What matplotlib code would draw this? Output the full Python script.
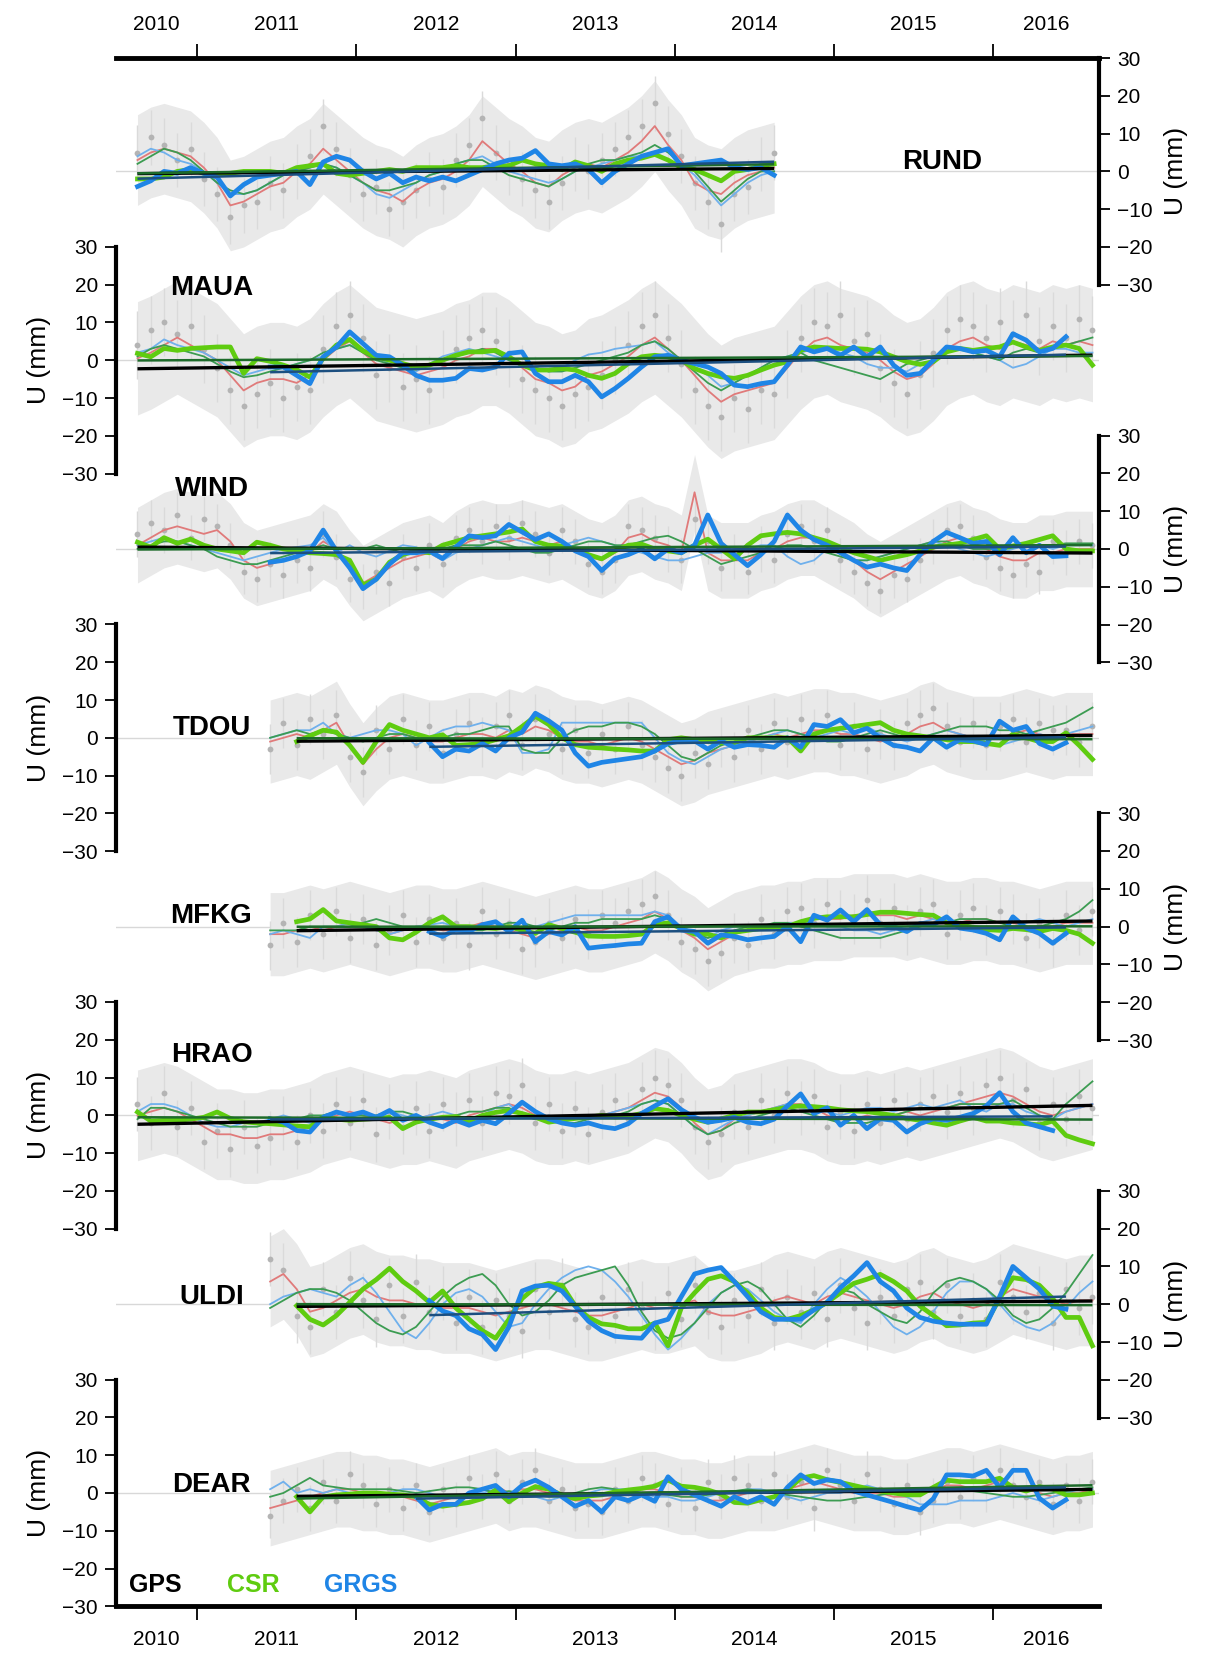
import numpy as np
import matplotlib
matplotlib.use('Agg')
import matplotlib.pyplot as plt

plt.rcParams['font.family'] = ['Liberation Sans', 'DejaVu Sans']

nan = np.nan

# ---- data (monthly, Aug 2010 .. Aug 2016), U in mm ----
stations = ['RUND', 'MAUA', 'WIND', 'TDOU', 'MFKG', 'HRAO', 'ULDI', 'DEAR']
months = 2010 + (np.arange(73) + 7.5) / 12
year_ticks = [2011, 2012, 2013, 2014, 2015, 2016]
year_labels = ['2010', '2011', '2012', '2013', '2014', '2015', '2016']

# first month index of each series
gps_start = {'RUND': 0, 'MAUA': 0, 'WIND': 0, 'TDOU': 10, 'MFKG': 10, 'HRAO': 0, 'ULDI': 10, 'DEAR': 10}
csr_start = {'RUND': 0, 'MAUA': 0, 'WIND': 0, 'TDOU': 12, 'MFKG': 12, 'HRAO': 0, 'ULDI': 12, 'DEAR': 12}
grgs_start = {'RUND': 0, 'MAUA': 10, 'WIND': 10, 'TDOU': 22, 'MFKG': 22, 'HRAO': 10, 'ULDI': 22, 'DEAR': 21}

# GPS error bar size (mm)
gps_err = {'RUND': 12, 'MAUA': 15, 'WIND': 10, 'TDOU': 11, 'MFKG': 11, 'HRAO': 12, 'ULDI': 12, 'DEAR': 10}

# GPS daily solutions (sampled)
gps_daily = {
    'RUND': [5, 9, 7, 3, 6, -2, -6, -12, -9, -8, -3, -5, 0, 4, 12, 6, -1, -6, -4, -10, -8, -5, -2, -4, 3,
             7, 14, 5, 1, -2, -5, -8, -3, 2, 0, 3, 6, 9, 12, 18, 10, 4, -3, -8, -14, -6, -4, 2, 5],
    'MAUA': [4, 8, 10, 7, 9, 3, -2, -8, -12, -9, -6, -10, -7, -8, 3, 9, 12, 6, -4, -2, -7, -5, -8, -1, 3,
             6, 8, 5, 2, -5, -8, -10, -12, -9, -7, -4, 0, 4, 9, 12, 6, -1, -8, -12, -15, -10, -13, -8, -9,
             -1, 6, 10, 9, 12, 5, 7, -2, -6, -9, -4, 2, 8, 11, 9, 6, 10, 7, 12, 5, 9, 6, 11, 8],
    'WIND': [4, 7, 5, 9, 3, 8, 6, 1, -6, -8, -4, -7, -3, -5, 4, -2, -8, -10, -6, -9, -2, -5, 1, -4, 3,
             5, 2, 6, 3, 7, 4, -1, 5, 2, -4, -6, -3, 6, 5, 3, 0, -3, 8, 2, -5, -2, -6, 0, -3, 4, 6, 2, 5,
             -3, -6, -9, -11, -7, -8, -3, 2, 5, 6, 3, -2, -5, -7, -4, -6, 2, -1, 2, 1],
    'TDOU': [-3, 4, -2, 5, 1, 6, -5, -9, 2, -3, 5, -2, 3, -4, 1, 4, -1, 3, 6, -2, 5, 1, -3, 2, -4, 1, -3,
             3, -2, -5, -8, -10, -4, -7, -1, -5, 2, -3, 4, -1, 5, 1, 6, -2, 3, -3, 1, -2, 4, 6, 8, 3, -1,
             4, -2, 3, 5, -1, 4, 2, 2, -1, 3],
    'MFKG': [-5, 1, -4, 3, -2, 4, -3, 2, -5, -1, 3, -4, 2, -3, 1, -5, 4, -2, 1, -6, -4, 1, -3, 2, -2, 3,
             1, 4, 6, 8, 3, -4, -6, -9, -7, -3, -5, 2, -2, 4, 5, 1, 6, 3, 2, 7, 1, 5, -1, 4, 6, -2, 3, 5,
             -1, 4, 2, -3, 1, -4, 3, -1, 4],
    'HRAO': [3, -2, 6, -3, 2, -7, -4, -9, -3, -8, -6, -2, -7, 0, -4, 3, -2, 4, -5, 1, -3, 2, -4, 3, -1,
             4, -2, 6, 5, 8, -2, 3, -4, 2, -5, 1, 4, -1, 7, 10, 8, 4, -3, -7, -5, 1, -3, 4, 0, 6, 2, 5, -3,
             1, -4, 3, -2, 4, -1, 3, 5, 1, 6, 2, 8, 10, 4, 7, -2, 3, -1, 5, 2],
    'ULDI': [12, 9, -3, -6, 4, -2, 7, 1, -4, 5, -3, 6, -2, 3, -5, 2, -6, 1, -3, -7, 4, -2, 5, -4, -6, 2,
             -3, 4, -1, -5, 3, -4, 5, -2, -6, 1, -3, 4, -5, 2, -2, 3, -4, 5, -1, -5, 2, -3, 4, 6, -2, 5,
             -3, 1, -4, 6, 2, -2, 3, -5, 4, -1, 2],
    'DEAR': [-6, -2, 1, -4, 3, -2, 5, 2, -3, 1, -4, 2, -5, 1, -3, 4, -1, 5, -2, 3, 6, -2, 1, -4, -3, -5,
             1, -2, 4, 2, -3, 1, -4, 3, -1, 4, 2, -2, 5, -1, 3, -4, 6, 2, -2, 5, 1, -3, 2, -5, -2, 3, -1,
             4, 1, 6, 2, -1, 3, -3, 2, -2, 3],
}

# GPS monthly (thin red)
gps_monthly = {
    'RUND': [3, 5, 6, 5, 4, 1, -3, -9, -8, -6, -4, -3, 0, 2, 6, 3, 0, -3, -5, -6, -8, -5, -3, -2, 0, 3,
             8, 5, 2, 0, -3, -4, -1, 1, 2, 1, 3, 5, 8, 12, 7, 3, -3, -5, -6, -3, -1, 0, 1],
    'MAUA': [0.5, 2, 4, 6, 4, 2, 0, -4, -8, -6, -5, -5, -6, -4, 0, 3, 5, 2, -1, -2, -3, -4, -3, -2, 0, 1,
             3, 3, 1, -2, -5, -6, -8, -7, -4, -3, -1, 1, 4, 6, 3, 0, -4, -8, -11, -9, -8, -7, -6, -2, 2,
             5, 6, 4, 3, 2, 0, -3, -5, -4, -1, 3, 5, 6, 4, 3, 5, 4, 3, 5, 4, 5, 4],
    'WIND': [1, 3, 5, 6, 5, 4, 5, 2, -3, -5, -4, -3, -2, -1, 2, 0, -5, -9, -7, -5, -3, -2, -1, -3, 0, 2,
             3, 2, 2, 3, 2, 1, 2, 0, -2, -3, -1, 3, 4, 2, 1, -1, 15, -1, -3, -3, -3, -1, 0, 2, 3, 3, 1,
             -1, -3, -6, -8, -6, -4, -2, 0, 2, 3, 1, 0, -2, -3, -3, -1, -1, 0, 0, 0],
    'TDOU': [-1, 0, 1, 0, 2, 4, -2, -7, -3, 0, 1, 0, -1, -1, 0, 1, 1, 0, 2, 1, 3, 2, 0, -1, -1, -2, -1,
             0, -1, -3, -5, -7, -6, -4, -3, -2, -1, 0, 1, 0, 1, 2, 2, 1, 1, 0, -1, 0, 1, 3, 4, 2, 1, 0,
             0, 0, 1, 2, 1, 0, 1, 1, 1],
    'MFKG': [-2, -2, -1, 0, -1, 0, 1, 0, -1, -2, -1, 0, 0, -1, -1, 0, 1, 0, -1, -2, -3, -2, -1, 0, -1,
             -1, 0, 1, 2, 4, 2, -1, -3, -6, -4, -2, -1, 0, 0, 1, 1, 2, 2, 2, 3, 3, 3, 3, 2, 3, 2, 1, 1, 2,
             2, 1, 1, 0, -1, 0, 1, 1, 1],
    'HRAO': [0, 1, 2, 1, -1, -3, -5, -5, -6, -6, -5, -5, -4, -3, -1, 0, 1, 0, -1, -2, -1, -1, 0, -1, -2,
             0, 1, 2, 3, 2, 0, -1, -1, 0, -1, 0, 1, 2, 4, 6, 5, 2, -2, -5, -4, -1, 0, 1, 2, 3, 3, 2, 0,
             -1, -1, 0, -1, 0, 1, 0, 1, 2, 3, 4, 5, 6, 5, 3, 1, 0, 1, 2, 3],
    'ULDI': [6, 8, 4, -2, -1, 1, 3, 4, 2, 1, 1, 0, 0, -1, -1, -1, -2, -3, -2, -1, 0, 0, -1, -2, -3, -3,
             -2, -1, 0, -1, -1, 0, 1, -2, -3, -3, -2, -1, 1, 2, 1, 0, 2, 3, 2, 1, 0, -1, 0, 2, 3, 1, 0,
             -1, 0, 2, 4, 3, 2, 1, 0, 1, 1],
    'DEAR': [-4, -3, -2, -1, 0, 1, 1, 0, 0, -1, -1, -2, -3, -2, -1, 0, 1, 2, 0, 1, 1, 0, -1, -2, -2, -2,
             -1, 0, 1, 1, 0, -1, -1, -2, -2, -1, 0, 0, 0, 1, 2, 3, 2, 1, 0, 0, 0, -1, -1, 0, 1, 2, 2, 1,
             2, 3, 2, 1, 0, -1, 0, 0, 1],
}

# GRACE CSR (thick green)
csr = {
    'RUND': [-2, -2, -1.5, 0, 0.5, -0.5, -1, -0.5, 0, 0, 0, -0.5, 1, 1.5, 2, -0.5, -1, -0.5, 0, 0.5, 0, 1,
             1, 1, 1.5, 1, 1, 1.5, 1.5, 3, 2, 1.5, 0.5, 2.5, 1.5, 0, 2, 3, 3.5, 4.5, 3, 1, 0.5, -1, -2.5,
             0, 0.5, 1.5, 2],
    'MAUA': [1.8, 0.9, 3.1, 2.6, 3.1, 3.3, 3.5, 3.5, -3.5, 0.4, -0.3, -1.3, -2.5, -4.5, 0.5, 4, 5.5, 2.5,
             0.9, 0, -0.9, -1.8, -1.3, 0, 1.3, 2.2, 2.2, 2.6, 0.9, -1.3, -2.6, -2.6, -2.2, -2.6, -4, -4.8,
             -3.5, -0.9, 0.9, 1.3, 0.9, 0, -2.2, -3.5, -4.4, -4.8, -4, -2.6, -1.3, -0.4, 2.6, 3.5, 3.3,
             3.1, 3.1, 2.9, 2.2, 0.9, -0.4, -1.1, -0.4, 2.2, 3.1, 2.6, 3.1, 3.5, 4.8, 3.5, 2.6, 3.5, 4,
             3.1, -1.3],
    'WIND': [1.8, 0.5, 3, 1.5, 2.6, 1, 0, -0.5, -1, 1.8, 1, 0, -0.5, -1, -1.2, -1.5, -3, -9.5, -8, -3.5,
             -1.5, -0.5, -1, 1, 2, 3, 3.5, 4, 4.5, 5.3, 2, 1, 0.8, 0, -1.5, -2.6, -0.5, 1, 1.3, 0, -0.5,
             -1, 1, 2.6, 0, -2.6, 1, 3.5, 4, 4.4, 4, 3, 2, 0.5, -1, -2, -3, -2.2, -1.5, -0.5, 0.5, 1, 1.5,
             2.5, 3.5, 0, 0.8, 1.5, 2.5, 3.5, 0, -0.5, -0.5],
    'TDOU': [-1, 0.5, 2, 1.5, -2, -6.5, -1, 3.5, 2, 1, 0, 0.8, -2, -1.8, -1.5, -0.5, 0.5, 3, 5.7, 3.5, 0,
             -1.8, -2.5, -2.7, -3, -3.2, -3.5, -3.5, -0.5, 0, -0.5, -1, -1.3, -1.3, 0, 0, 0, 0, -3.5, 1,
             2, 2.5, 3, 3.5, 4, 2, 1, 0.5, 0, -0.5, -1, -1, -1.5, -2, 1, 0, -1, -1, 1.3, -2, -5.7],
    'MFKG': [1.3, 2, 4.5, 1.5, 1, 0.5, 0, -3, -3.5, -1.5, 1, 2.6, 0, 0, -0.3, -0.5, 0, -1, -1.8, 0.5,
             -0.5, -1.5, -2.5, -2.6, -2.6, -2.4, -2, 0.5, 1, -0.5, -2, -2, -3, -1.5, -1, -0.5, 0, 0, 1.3,
             2.2, 2.6, 2.6, 2.6, 3.2, 3.8, 3.8, 3.5, 3.2, 3, 1, 0.5, -0.2, -0.8, -1, -0.5, -0.8, -1.3,
             -0.5, -1, -2, -4.4],
    'HRAO': [0.9, -1.5, -1.3, -1.3, -1, -0.5, 0.9, -0.8, -1.7, -2, -2.2, -2.5, -2.8, -3, -0.5, -1, -1.3,
             -1, -0.8, -0.5, -3.5, -1.8, -1, -0.5, -0.3, -1.5, 0, 0.8, 1.3, 0.5, -0.5, -1.8, -1.3, -0.8,
             -0.5, 0, -0.4, -0.2, 0.5, 1.8, 1.3, 0, -1, -1.8, -0.9, 0, 0.9, 0.9, 1.5, 2.2, 2.5, 2.3, 2,
             1.5, 1.2, 1, 0.5, 0, -0.8, -1.3, -2, -2.6, -1.5, -0.5, -1.5, -1.5, -2, -2.2, -2.5, -1.5,
             -5.3, -6.5, -7.5],
    'ULDI': [-0.4, -4, -5.5, -3, 0.5, 4, 6.5, 9.5, 6, 3.5, 0.5, 3.5, -1, -4, -7, -9, -4, 1.5, 4.5, 5.5,
             5, -0.4, -3.5, -5.2, -5.6, -6.5, -6.5, -5, -11, -1, 3, 6.6, 7.5, 6, 3, -1, -3.5, -4, -3,
             -1.5, 0.5, 3, 5.5, 6.6, 7.9, 6, 3.5, -0.5, -3, -5.7, -5.5, -5, -4.8, 1.5, 7, 6.5, 5, 1.5,
             -3.5, -3.5, -11],
    'DEAR': [-1, -5, -1, -0.5, -0.3, 0, 0, -0.3, -0.5, -1, -3, -3.5, -3, -2.5, -1.5, 0.8, -2.3, 0, 1.7,
             1, -0.5, -1.5, -0.8, -0.5, 0.3, 0.8, 1.2, 1.8, 3.4, 1.8, 1.5, 0.8, -0.3, -2.5, -2.7, -1.8,
             -1, 0.8, 3.9, 4.6, 3.5, 2.8, 2, 1.2, 0.5, 0, -0.5, -0.5, 1.5, 3.4, 3, 3, 3, 3.9, 1.5, 0.5,
             1.7, 1, -0.5, -0.5, 0],
}

# GRACE GRGS (thick blue)
grgs = {
    'RUND': [-4, -2.5, 0, -0.5, 1, -0.5, -1.5, -6.5, -3.5, -1.5, -1, -0.5, 0, -3.5, 2.5, 4, 3, 0, -2,
             -0.5, -3, -1.5, -2.5, -1.5, -2.5, -1, 0.5, 2, 3, 3.5, 5.5, 2, 1.5, 2, 0.5, -3, 0, 2, 4, 5, 6,
             1.5, 2, 2.5, 3, 1, 0.5, 1, -1],
    'MAUA': [-1.8, -1.8, -4, -6.2, 0.9, 3.5, 7.5, 4.4, 1.3, 0.9, -1.3, -4, -5.3, -5.3, -4.8, -2.2, -2.6,
             -1.8, 1.8, 2.2, -3.5, -5.7, -5.7, -4, -5.7, -9.7, -7.5, -4.8, -1.8, 0.9, 1.3, 0, -0.9, -1.8,
             -3.5, -6.6, -7, -6.2, -5.7, -1.3, 3.5, 2.2, 3.1, 1.3, 3.5, 0.9, 3.5, -1.3, -4, -3.5, 0, 3.5,
             3.1, 2.2, 2.6, 0.9, 7, 5.3, 2.2, 3.1, 6.2],
    'WIND': [-3.5, -3, -2, -0.5, 5, -0.5, -5, -10.5, -8, -4, -1, -1, -0.5, -2.5, 0.5, 3.5, 3, 3.5, 6.5,
             4.5, 2.5, 4, 2, -0.5, -2, -5.7, -2.5, -1.5, 0, -2.6, 0, -1, 1, 9, 1.5, -1.5, -4.4, -1.5, 2,
             9, 5, 2.5, 1, -1, -3, -4.8, -4, -5, -5.7, -1.5, 2, 4.4, 3, 1.5, 2, -1.5, 3, -1, 1, -2, -1.8],
    'TDOU': [-1.3, -5, -3, -3.5, -1.5, -3.5, 0, 1.5, 6.5, 4.5, 2, -4, -7.5, -6.5, -6, -5.5, -5, -3.5,
             -1.5, -0.8, -0.8, -3, -0.8, -2.5, -1.8, -2, -2.5, 0, -2.5, 3.5, 3, 4.8, 1.3, 2.5, 0, -2,
             -2.5, -3.5, 0, -2.5, -0.5, -0.8, -1.8, 4.4, 2, 3, -1.5, -3, -1.3],
    'MFKG': [-1.3, -2.6, -0.8, -1.3, 0.5, 1.3, -1.3, 1.7, -4, -1.3, -2.2, 0, -5.7, -5.3, -5, -4.6, -4.4,
             1.3, 2.6, -0.9, -1.3, -4.4, -2.2, -2.6, -3.5, -3, -2.6, 0, -4, 3, 1.7, 4.4, 1.3, 4.5, 0.5,
             0, -1.3, 0.8, 0.5, 2.6, -0.4, -0.9, -1.8, -3.5, 2.6, -0.4, -1.8, -4.4, -1.8],
    'HRAO': [-0.9, -1.8, -4, -4.4, -0.5, 0.9, 0, 0.9, -0.5, 1.3, -1.3, 0, -1.8, -3, -1.3, -2.6, -1.3,
             -2.2, 0.5, 3.5, 1, -0.9, -2, -2.6, -2, -3, -3.5, -2.2, 0.5, 2.5, 4.4, 1.5, -0.5, -1.8, -1.3,
             -0.5, -1.8, -2.2, -1, 2.5, 5.7, 0.5, 2, -2.6, 0, -3.5, -0.9, -1.3, -4.4, -2.2, -0.9, -1.3,
             -0.5, 0.5, 2.5, 6, 1, -2, -3, -4],
    'ULDI': [0.9, -1.8, -3, -6.5, -8, -12, -6, 3.5, 4.8, 5, 3.5, -0.5, -4.5, -7, -8.5, -8.8, -9, -5, -4,
             2, 8, 9, 9.7, 6, 2, -2, -4, -4, -4, -1.5, 0.5, 4.4, 7.5, 11, 6, 3.5, -1, -3.5, -4.5, -5,
             -5.3, -5.3, -5.3, 2, 10, 7, 4, -0.5, -1.3],
    'DEAR': [-1, -4.5, -3, -3, 0, 1, 2, -1, 2, 3.4, 1.5, -1, -3.5, -2, -5, -1, -2, -0.5, -2.2, 4.3, 1,
             -0.5, -2, -3.5, -1, -2.5, -1, -3, 1.5, 4.8, 2.5, 3.5, 3, 0.5, -0.5, -1.5, -2.5, -3.6, -4.5,
             -1.5, 4.8, 4.8, 4.5, 6, 1.5, 6, 6, -1.4, -4, -1.8],
}

# loading models (thin light blue / thin dark green)
model_a = {
    'RUND': [4, 6, 5, 3, 2, 0, -3, -6, -6, -5, -3, -1, 0, 1, 2, 1, -1, -3, -6, -7, -5, -3, -1, 0, 2, 3,
             4, 2, 0, -1, -2, -3, -2, 0, 1, 2, 3, 4, 4, 5, 6, 2, -1, -5, -9, -6, -3, -1, 0],
    'MAUA': [2, 3, 5.5, 4, 3, 2, 0, -2, -4, -3, -2, -2, -1, 0, 1, 3, 4, 3, 1, -1, -2, -3, -1, 1, 2, 3, 2,
             1, 0, -1, -2, -3, -2, 0, 1.5, 2, 3, 3.5, 4, 5, 2, 0, -2, -4, -7, -6, -4, -2, 0, 1, 2, 3, 3,
             2, 1, -1, -2, -2, -3, -1, 0, 2, 3, 2, 1, 0, -2, -1, 1, 3, 3, 2, 2],
    'WIND': [1, 2, 3, 2, 1, 0, -1, -2, -3, -2, -1, 0, 0.5, 1, 3, -1, 1, -1, -2, -0.5, 1, 0.5, -1, -3, -1,
             0, 1, 2, 3, 2, 1, 0, 1, 2, 3, 2, 1, 0, -1, -2, -3, -3, -2, -1, -1, 0, 0, 1, 1, -2, -4, -3, 0,
             -1, -3, -3, -2, -1, 0, 1, 2, 1, 0, -1, -2, -1, 0, 1, 1, 0, 1, 1, 1],
    'TDOU': [0, 1, 2, 2, 4, 1, 0, 1, 2, 2, 1, -2, 0, 2, 3, 3, 4, 3, 2, -4, -4, -3, 4, 4, 4, 4, 4, 4, 4, 0,
             -4, -6, -7, -5, -3, -2, -1, 0, 1, 2, 1, 0, 1, 2, 1, 3, 1, 0, -1, 0, 1, 2, 1, 0, -1, -2, -1,
             0, 1, 0, 1, 2, 3],
    'MFKG': [-2, -1, -2, -3, 0, 0, 1, 0, -1, -2, -1, 0, 0.5, 1, 0, -1, 0, 1, 0, -1, 0, 1, 2, 3, 3, 3, 3,
             3, 3, 4, 3, 0, -2, -3, -1, 0, 0, 0, 0, 1, 1, 1, 0, 0, -1, -1, -2, -1, 0, 1, 2, 1, 0, 0, -1,
             -1, 0, 1, 2, 1, 0, 1, 2],
    'HRAO': [1, 3, 3, 2, 0, -2, -3, -3, -2, -2, -1, 0, -1, -2, 0, 1, 0, -1, 0, 1, 0, -1, 0, 1, 0, -1, 0,
             2, 3, 0, -1, 0, -1, 0, -1, 0, 1, 2, 3, 4, 3, 0, -3, -5, -3, -1, 0, 1, 2, 3, 2, 1, 1, 0, 1, 2,
             2, 1, 2, 3, 2, 3, 4, 2, 1, 3, 3, 1, 0, -1, 1, 2, 3],
    'ULDI': [0, 2, 3, 4, 3, 2, 5, 7, 3, -2, -7, -9, -5, 0, 3, 4, 2, -2, -6, -5, 0, 4, 7, 9, 10, 9, 6, 2,
             -3, -8, -12, -9, -5, 0, 3, 5, 4, 1, -2, -4, -5, 0, 4, 7, 5, 2, -2, -6, -8, -6, -2, 3, 6, 6,
             4, 0, -4, -6, -7, -5, -1, 3, 6],
    'DEAR': [1, 3, 0, 1, 0, 1, 0, -1, 0, 0, 1, 1, 0, -1, -1, 0, 0, 1, 0, -1, -1, -2, -1, -1, 0, 1, 1, 1,
             0, -1, -1, -2, -2, -1, 0, 0, 1, 1, 0, -1, -2, -1, 0, 0, 1, 2, 1, 0, -1, -3, -3, -3, -2, -2,
             -2, -1, 0, -1, -2, -1, 0, 1, 1],
}
model_b = {
    'RUND': [2, 4, 6, 5, 3, 0, -3, -5, -6, -5, -3, -1, 0, 1, 2, 1, -1, -3, -5, -5, -4, -3, -1, 0, 2, 3,
             3, 1, -1, -2, -3, -4, -2, 0, 2, 3, 3, 4, 5, 7, 5, 2, 0, -4, -8, -5, -2, 0, 0],
    'MAUA': [1, 3, 4, 3, 2, 1, -1, -3, -4.5, -4, -3, -2, -1, 0, 2, 3, 4, 2, 0, -1, -2, -2.5, -1, 0, 1, 2,
             3, 2, 0, -1, -2, -3, -3, -2, -1, 0, 1, 2, 4, 5, 3, 0, -3, -6, -8, -6, -4, -2, 0, 1, 2, 0, -1,
             -2, -3, -4, -5, -3, -1, 0, 1, 2, 3, 2, 1, 0, 2, 3, 2, 3, 4, 5, 6],
    'WIND': [0, 1, 2, 2, 1, 0, -2, -3, -4, -4, -3, -2, -1, 0, 1, 0, 0, 0, 1, 0, -1, -1, -1, 0, 1, 1, 1,
             2, 1, 0, -1, -1, 0, 1, 2, 2, 1, 1, 2, 3, 3.5, 2, 0, -2, -4, -3, -2, -1, 0, 1, 1, 0, -1, -2,
             -3, -3, -2, -1, 0, 1, 2, 2, 1, 0, 0, 0, 0.5, 1, 1, 1, 1.5, 1.5, 1.5],
    'TDOU': [0, 1, 2, 1, 2, 1, 0, -1, 0, 1, 1, 0, -1, 0, 1, 1, 2, 3, 3, -3, -4, -4, 0, 2, 3, 3, 4, 4, 3,
             1, -2, -5, -6, -4, -2, -1, 0, 1, 2, 2, 1, 0, -1, -1, 0, 1, 2, 1, 0, 0, 1, 2, 3, 3, 3, 2, 2,
             1, 2, 3, 4, 6, 8],
    'MFKG': [-1, -1, -1, 0, 0, 0, 0, 1, 2, 1, 0, 0, 0, 0, 0, -1, -1, 0, 1, 1, 0, -1, 0, 1, 1, 2, 2, 2, 2,
             3, 2, 0, -2, -3, -2, -1, 0, 0, 1, 1, 0, -1, -2, -3, -3, -3, -3, -2, -1, 0, 1, 1, 2, 2, 2, 1,
             0, 0, 0, 1, 2, 4, 7],
    'HRAO': [-1, 2, 2, 1, 0, -1, -2, -3, -3, -3, -2, -1, -1, 0, 0, 1, 0, 0, 0, 1, 1, 0, -1, -1, 0, 1, 1,
             2, 2, 0, -1, -1, -2, -2, -1, 0, 0, 1, 3, 4, 3, 0, -3, -5, -4, -2, -1, 0, 1, 2, 1, 0, -1, -2,
             -2, -2, -1, 0, 1, 2, 2, 2, 3, 3, 3, 3, 4, 2, 0, -1, 3, 6, 9],
    'ULDI': [-1, 1, 3, 4, 4, 3, 1, -2, -5, -7, -8, -6, -2, 2, 5, 7, 8, 5, 0, -3, -2, 1, 5, 7, 8, 9, 10, 5,
             -2, -7, -9, -8, -5, -1, 3, 5, 6, 4, 0, -4, -6, -3, 1, 4, 3, 0, -2, -4, -5, -2, 3, 6, 7, 6, 4,
             1, -3, -5, -4, -1, 3, 8, 13],
    'DEAR': [-1, 0, 2, 4, 2, 1.5, 1, 1, 1, 1, 0.5, 0, 0.5, 1, 1.5, 1.5, 1, 0, 0.5, 0, -0.5, -1, -1, 0, 1,
             1.5, 1, 0.5, 0, 0, -0.5, -1, -1, -0.5, 0, 0.5, 1, 0.5, 0, -0.5, -1, -1.5, -2, -2, -1.5, -1,
             -0.5, 0, 0, 0, 0.5, 1, 1, 0.5, 0, -0.5, -1, -1, -0.5, 0, 0.5, 1, 1.5],
}

# station label placement (decimal year, mm)
label_pos = {'RUND': (2015.68, 2.5), 'MAUA': (2011.09, 19), 'WIND': (2011.09, 16),
             'TDOU': (2011.09, 2.5), 'MFKG': (2011.09, 2.8), 'HRAO': (2011.09, 16),
             'ULDI': (2011.09, 2), 'DEAR': (2011.09, 2.2)}

C_CSR = '#5fcc10'
C_GRGS = '#1f85e6'
C_RED = '#e07a7a'
C_LBLUE = '#6fb0ec'
C_DGREEN = '#3c9c52'


def place(vals, start):
    out = np.full(len(months), nan)
    vals = np.asarray(vals, dtype=float)[:len(months) - start]
    out[start:start + len(vals)] = vals
    return out


def trend_line(ax, y, span, color, lw, z):
    m = ~np.isnan(y) & ~np.isnan(span)
    p = np.polyfit(months[m], y[m], 1)
    tt = months[~np.isnan(span)]
    ax.plot([tt[0], tt[-1]], np.polyval(p, [tt[0], tt[-1]]), color=color, lw=lw, zorder=z,
            solid_capstyle='butt')


xlim = (2010.49, 2016.666)
fig = plt.figure(figsize=(12.12, 16.54), dpi=100)
L, W = 116 / 1212, 983 / 1212
top0, step, H = 58.0, 188.8, 226.8

for k, name in enumerate(stations):
    top_px = top0 + step * k
    ax = fig.add_axes([L, 1 - (top_px + H) / 1654, W, H / 1654])
    ax.patch.set_alpha(0)
    ax.set_xlim(*xlim)
    ax.set_ylim(-30, 30)

    g0 = gps_start[name]
    daily = place(gps_daily[name], g0)
    red = place(gps_monthly[name], g0)
    c = place(csr[name], csr_start[name])
    b = place(grgs[name], grgs_start[name])
    ma = place(model_a[name], g0)
    mb = place(model_b[name], g0)
    err = gps_err[name]

    ax.axhline(0, color='#d8d8d8', lw=1, zorder=0)
    # GPS error envelope around the monthly GPS series, daily points on top
    ax.fill_between(months, red - err, red + err, color='#e9e9e9', lw=0, zorder=1)
    ax.errorbar(months, daily, yerr=err * 0.6, fmt='o', ms=4.2, color='#b4b4b4',
                ecolor='#dadada', elinewidth=1, mec='none', zorder=2)
    ax.plot(months, red, color=C_RED, lw=1.3, zorder=3)
    ax.plot(months, ma, color=C_LBLUE, lw=1.3, zorder=3)
    ax.plot(months, mb, color=C_DGREEN, lw=1.3, zorder=3)
    ax.plot(months, c, color=C_CSR, lw=3.4, zorder=4)
    ax.plot(months, b, color=C_GRGS, lw=3.4, zorder=5)

    trend_line(ax, red, c, 'black', 2.4, 6)
    trend_line(ax, c, c, '#1d6b2a', 1.8, 7)
    trend_line(ax, b, b, '#1c4f80', 1.8, 7)

    lx, ly = label_pos[name]
    ax.text(lx, ly, name, fontsize=20, fontweight='bold', ha='center', va='center', zorder=8)

    for s in ax.spines.values():
        s.set_visible(False)
    right = (k % 2 == 0)
    side = 'right' if right else 'left'
    ax.spines[side].set_visible(True)
    ax.spines[side].set_linewidth(3)
    ax.set_yticks([-30, -20, -10, 0, 10, 20, 30])
    ax.tick_params(axis='y', which='major', length=8, width=1.3, labelsize=15, pad=5,
                   left=not right, right=right, labelleft=not right, labelright=right)
    ax.set_ylabel('U (mm)', fontsize=19, labelpad=8)
    if right:
        ax.yaxis.set_label_position('right')

    if k == 0 or k == len(stations) - 1:
        edge = 'top' if k == 0 else 'bottom'
        ax.spines[edge].set_visible(True)
        ax.spines[edge].set_linewidth(3.5)
        centers = [(max(int(y), xlim[0]) + min(int(y) + 1, xlim[1])) / 2 for y in year_labels]
        ax.set_xticks(year_ticks)
        ax.set_xticklabels([])
        ax.set_xticks(centers, minor=True)
        ax.set_xticklabels(year_labels, minor=True)
        top = (k == 0)
        ax.tick_params(axis='x', which='major', length=10, width=1.3, direction='out',
                       top=top, bottom=not top, labeltop=False, labelbottom=False)
        ax.tick_params(axis='x', which='minor', length=0, pad=17, labelsize=15,
                       top=top, bottom=not top, labeltop=top, labelbottom=not top)
    else:
        ax.set_xticks([])

    if k == len(stations) - 1:
        ax.text(2010.74, -24.3, 'GPS', color='black', fontsize=18, fontweight='bold',
                ha='center', va='center', zorder=8)
        ax.text(2011.35, -24.3, 'CSR', color=C_CSR, fontsize=18, fontweight='bold',
                ha='center', va='center', zorder=8)
        ax.text(2012.03, -24.3, 'GRGS', color=C_GRGS, fontsize=18, fontweight='bold',
                ha='center', va='center', zorder=8)

fig.savefig('out.png', dpi=100)
